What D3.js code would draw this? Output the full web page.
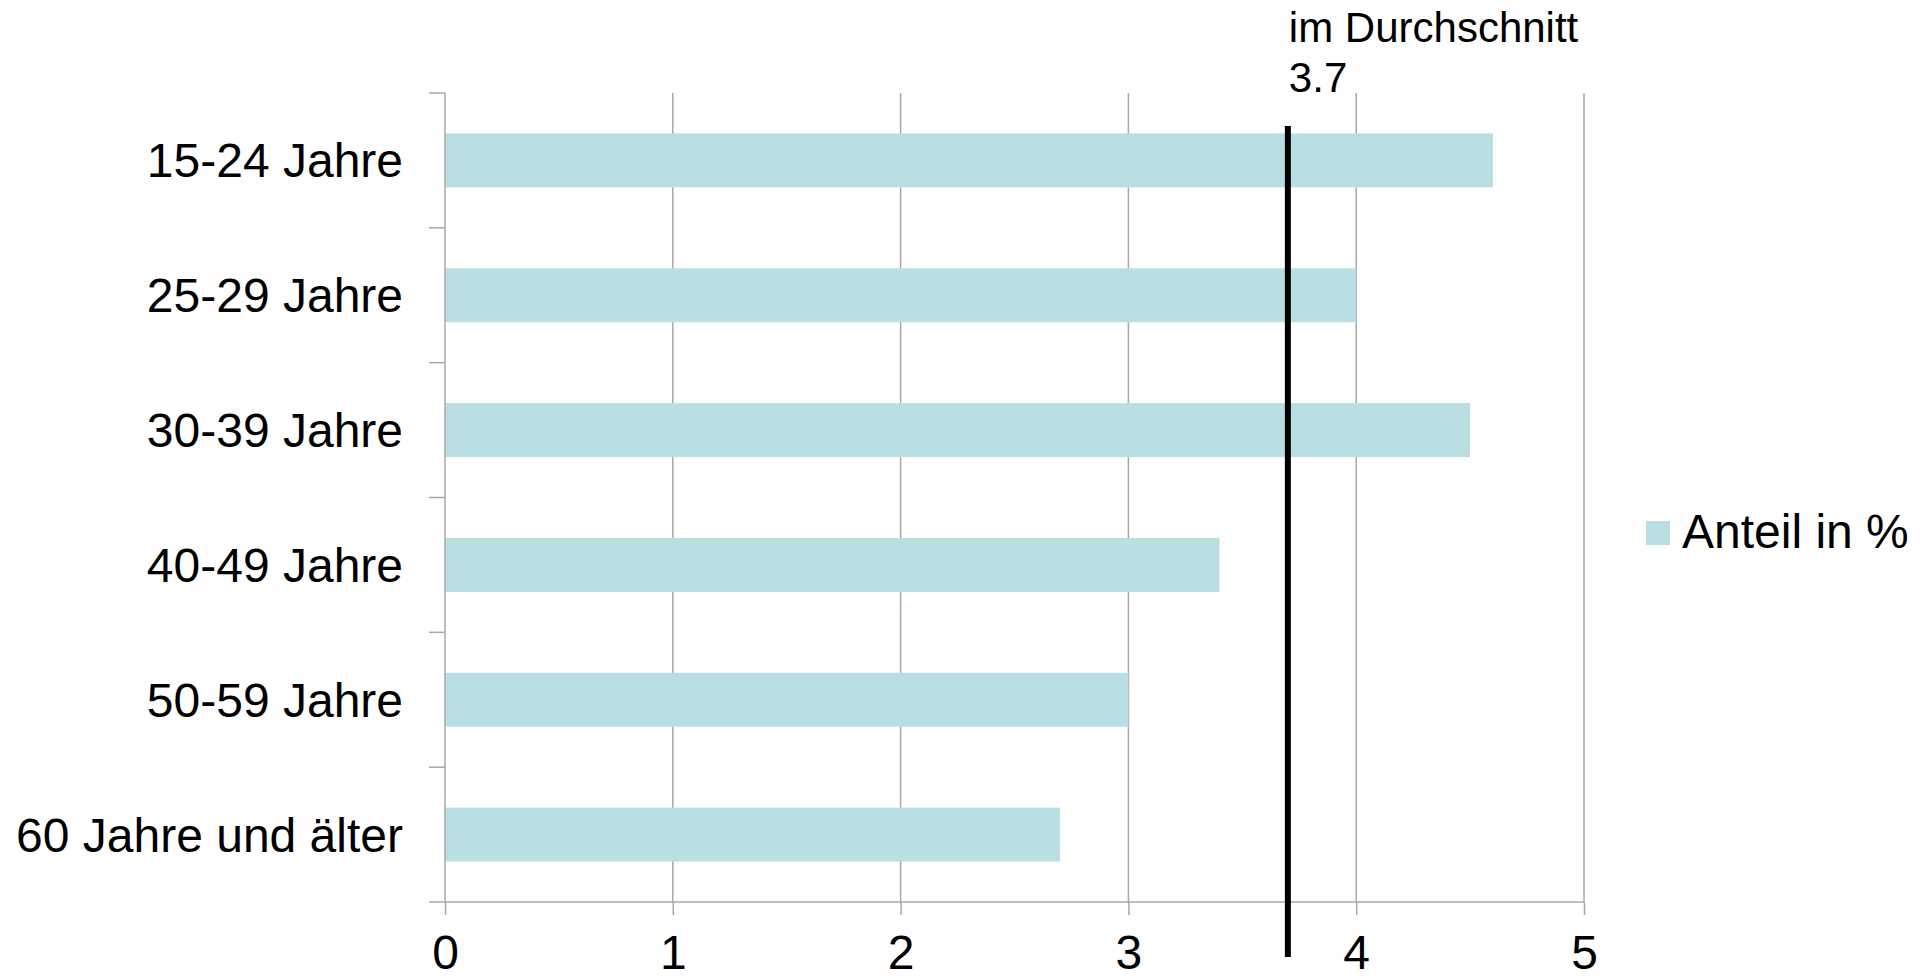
<!DOCTYPE html>
<html>
<head>
<meta charset="utf-8">
<script src="https://cdn.jsdelivr.net/npm/d3@7"></script>
<style>
  html, body { margin: 0; padding: 0; background: #fff; }
  svg { display: block; font-family: "Liberation Sans", Arial, sans-serif; }
</style>
</head>
<body>
<svg id="chart" width="1928" height="980"></svg>
<script>
// Age groups and their share in percent
const categories = ["15-24 Jahre", "25-29 Jahre", "30-39 Jahre", "40-49 Jahre", "50-59 Jahre", "60 Jahre und älter"];
const values = [4.6, 4.0, 4.5, 3.4, 3.0, 2.7];
const xTicks = [0, 1, 2, 3, 4, 5];
const average = 3.7;
const averageLabel = ["im Durchschnitt", "3.7"];
const seriesName = "Anteil in %";

const barColor = "#b9dfe2";
const gridColor = "#a8a8a8";

const svg = d3.select("#chart");
const plot = { left: 445, right: 1584, top: 93, bottom: 902 };

const x = d3.scaleLinear().domain([0, 5]).range([plot.left, plot.right]);
const y = d3.scaleBand().domain(categories).range([plot.top, plot.bottom])
  .paddingInner(0.6).paddingOuter(0.3);
const band = d3.scaleBand().domain(categories).range([plot.top, plot.bottom]);

// vertical gridlines
svg.append("g").selectAll("line").data(xTicks.filter(d => d > 0)).join("line")
  .attr("x1", d => x(d)).attr("x2", d => x(d))
  .attr("y1", plot.top).attr("y2", plot.bottom)
  .attr("stroke", gridColor).attr("stroke-width", 1.5);

// bars
svg.append("g").selectAll("rect").data(categories).join("rect")
  .attr("x", x(0))
  .attr("y", d => y(d))
  .attr("width", (d, i) => x(values[i]) - x(0))
  .attr("height", y.bandwidth())
  .attr("fill", barColor);

// bottom axis
const xAxis = d3.axisBottom(x).tickValues(xTicks).tickSize(13).tickPadding(20).tickFormat(d3.format("d"));
const gx = svg.append("g").attr("transform", `translate(0,${plot.bottom})`).call(xAxis);
gx.select(".domain").remove();
gx.selectAll(".tick line").attr("stroke", gridColor).attr("stroke-width", 1.5);
gx.selectAll(".tick text").attr("font-size", 48).attr("fill", "#000")
  .attr("font-family", "'Liberation Sans', Arial, sans-serif");
svg.append("line")
  .attr("x1", plot.left - 16).attr("x2", plot.right)
  .attr("y1", plot.bottom).attr("y2", plot.bottom)
  .attr("stroke", gridColor).attr("stroke-width", 1.5);

// left axis with category boundary ticks
svg.append("line")
  .attr("x1", plot.left).attr("x2", plot.left)
  .attr("y1", plot.top).attr("y2", plot.bottom)
  .attr("stroke", gridColor).attr("stroke-width", 1.5);
svg.append("g").selectAll("line").data(categories).join("line")
  .attr("x1", plot.left - 16).attr("x2", plot.left)
  .attr("y1", d => band(d)).attr("y2", d => band(d))
  .attr("stroke", gridColor).attr("stroke-width", 1.5);

// category labels
svg.append("g").selectAll("text").data(categories).join("text")
  .attr("x", plot.left - 42)
  .attr("y", d => band(d) + band.bandwidth() / 2 + 17)
  .attr("text-anchor", "end")
  .attr("font-size", 48)
  .attr("fill", "#000")
  .text(d => d);

// average marker
svg.append("line")
  .attr("x1", x(average)).attr("x2", x(average))
  .attr("y1", 126).attr("y2", 957)
  .attr("stroke", "#000").attr("stroke-width", 6);
svg.append("g").selectAll("text").data(averageLabel).join("text")
  .attr("x", x(average) + 1)
  .attr("y", (d, i) => 42 + i * 50)
  .attr("font-size", 42)
  .attr("fill", "#000")
  .text(d => d);

// legend
const legend = svg.append("g").attr("transform", "translate(1646,521)");
legend.append("rect").attr("width", 24).attr("height", 24).attr("fill", barColor);
legend.append("text").attr("x", 36).attr("y", 27)
  .attr("font-size", 48).attr("fill", "#000").text(seriesName);
</script>
</body>
</html>
